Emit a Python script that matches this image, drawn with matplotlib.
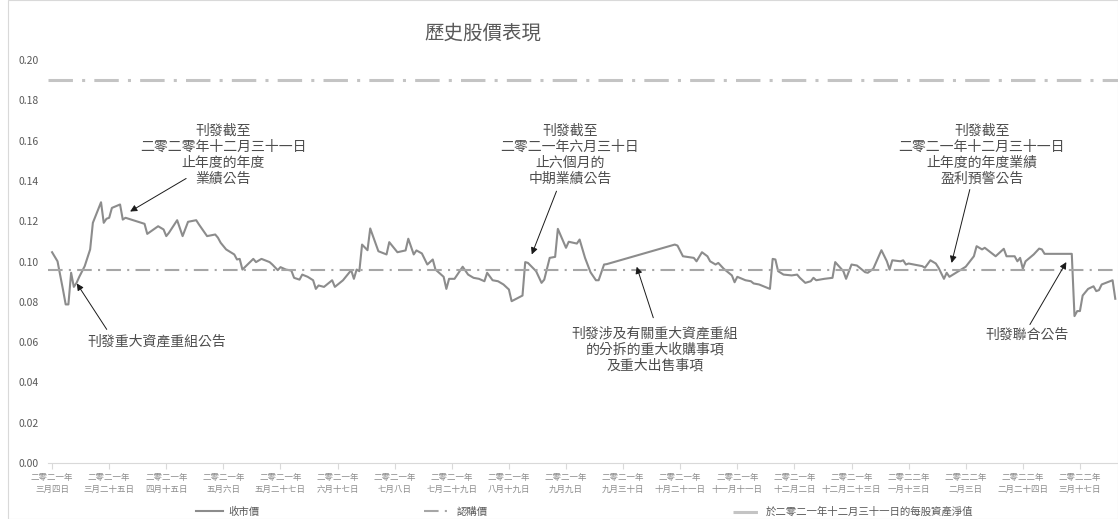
import matplotlib
matplotlib.use("Agg")
import matplotlib.pyplot as plt
from matplotlib.lines import Line2D
from matplotlib.patches import Rectangle

plt.rcParams["font.family"] = ["Noto Sans CJK TC", "DejaVu Sans"]

# days counted from 2021-03-04, closing price (HK$)
days = [0, 2, 4, 5, 6, 7, 8, 9, 10, 12, 14, 15, 18, 19, 20, 21, 22, 25, 26, 27,
        34, 35, 39, 41, 42, 43, 46, 48, 50, 53, 54, 57, 60, 61, 62, 64, 67, 68, 69, 70,
        74, 75, 77, 80, 81, 83, 84, 86, 88, 89, 91, 92, 94, 96, 97, 98, 100, 103, 104, 107,
        110, 111, 112, 113, 114, 116, 117, 120, 123, 124,
        127, 130, 131, 133, 134, 136, 138, 140, 141, 144, 145, 146, 148, 151, 153, 155, 157, 159, 160, 162,
        164, 166, 168, 169, 173, 174, 175, 178, 180, 181, 183, 185, 186, 189, 190, 193, 194, 196, 198, 200,
        201, 203, 204, 229, 230, 232, 236, 237, 239, 241, 242, 244, 245, 247, 250, 251, 252,
        255, 257, 258, 260, 264, 265, 266, 267, 269, 272, 274, 275, 277, 279, 280, 281, 284, 287, 288, 291,
        292, 294, 296, 299, 300, 302, 305, 307, 308, 309, 312, 313, 314, 315, 317, 320, 321, 323, 325, 326,
        328, 329, 330, 336, 339, 340, 342, 343, 347, 349, 350, 351, 354, 355, 356, 357, 358, 361, 363, 364,
        365, 375, 376, 377, 378, 379, 381, 383, 384, 385, 386, 390, 391]
close = [0.1046, 0.1001, 0.0861, 0.0787, 0.0787, 0.0944, 0.0874, 0.0894, 0.0924, 0.0977,
         0.1060, 0.1192, 0.1294, 0.1192, 0.1212, 0.1217, 0.1266, 0.1283, 0.1208, 0.1217,
         0.1187, 0.1137, 0.1175, 0.1159, 0.1126, 0.1143, 0.1205, 0.1126, 0.1197, 0.1205,
         0.1184, 0.1126, 0.1134, 0.1118, 0.1093, 0.1060, 0.1035, 0.1010, 0.1013, 0.0960,
         0.1013, 0.0997, 0.1013, 0.0997, 0.0985, 0.0957, 0.0972, 0.0960, 0.0955, 0.0919,
         0.0910, 0.0935, 0.0924, 0.0907, 0.0864, 0.0881, 0.0874, 0.0907, 0.0874, 0.0907,
         0.0957, 0.0914, 0.0960, 0.0952, 0.1084, 0.1056, 0.1164, 0.1051, 0.1035, 0.1096,
         0.1046, 0.1055, 0.1113, 0.1035, 0.1055, 0.1040, 0.0985, 0.1010, 0.0960, 0.0924,
         0.0864, 0.0914, 0.0914, 0.0974, 0.0935, 0.0919, 0.0914, 0.0902, 0.0944, 0.0907,
         0.0902, 0.0886, 0.0861, 0.0803, 0.0831, 0.0997, 0.0993, 0.0952, 0.0894, 0.0910,
         0.1018, 0.1023, 0.1162, 0.1068, 0.1098, 0.1089, 0.1109, 0.1018, 0.0947, 0.0907,
         0.0907, 0.0985, 0.0987, 0.1084, 0.1079, 0.1026, 0.1018, 0.1001, 0.1046, 0.1026,
         0.1001, 0.0985, 0.0993, 0.0964, 0.0931, 0.0897, 0.0924,
         0.0907, 0.0902, 0.0891, 0.0886, 0.0864, 0.1013, 0.1010, 0.0952, 0.0935, 0.0931,
         0.0935, 0.0919, 0.0894, 0.0902, 0.0919, 0.0907, 0.0914, 0.0919, 0.0997, 0.0952,
         0.0914, 0.0985, 0.0980, 0.0947, 0.0944, 0.0964, 0.1056, 0.1001, 0.0960, 0.1006,
         0.1001, 0.1006, 0.0985, 0.0990, 0.0985, 0.0977, 0.0969, 0.1006, 0.0990, 0.0969,
         0.0914, 0.0944, 0.0924, 0.0974, 0.1026, 0.1076, 0.1060, 0.1068, 0.1026, 0.1051,
         0.1063, 0.1026, 0.1026, 0.1001, 0.1018, 0.0964, 0.1001, 0.1035, 0.1064, 0.1060,
         0.1038, 0.1038, 0.0729, 0.0754, 0.0754, 0.0831, 0.0864, 0.0877, 0.0853, 0.0858,
         0.0886, 0.0907, 0.0815]

subscription_price = 0.096
nav_per_share = 0.19

tick_days = [0, 21, 42, 63, 84, 105, 126, 147, 168, 189, 210, 231, 252, 273, 294, 315, 336, 357, 378]
tick_labels = ["二零二一年\n三月四日", "二零二一年\n三月二十五日", "二零二一年\n四月十五日",
               "二零二一年\n五月六日", "二零二一年\n五月二十七日", "二零二一年\n六月十七日",
               "二零二一年\n七月八日", "二零二一年\n七月二十九日", "二零二一年\n八月十九日",
               "二零二一年\n九月九日", "二零二一年\n九月三十日", "二零二一年\n十月二十一日",
               "二零二一年\n十一月十一日", "二零二一年\n十二月二日", "二零二一年\n十二月二十三日",
               "二零二二年\n一月十三日", "二零二二年\n二月三日", "二零二二年\n二月二十四日",
               "二零二二年\n三月十七日"]

series_names = ["收市價", "認購價", "於二零二一年十二月三十一日的每股資產淨值"]

# (text, text centre, arrow tail, arrow head) in data coords
notes = [
    ("刊發截至\n二零二零年十二月三十一日\n止年度的年度\n業績公告", (62.9, 0.1531), (49.3, 0.1412), (28.7, 0.1248)),
    ("刊發重大資產重組公告", (38.6, 0.0603), (20.1, 0.0663), (9.1, 0.0891)),
    ("刊發截至\n二零二一年六月三十日\n止六個月的\n中期業績公告", (190.4, 0.1531), (185.5, 0.1349), (176.4, 0.1035)),
    ("刊發涉及有關重大資產重組\n的分拆的重大收購事項\n及重大出售事項", (221.7, 0.0563), (221.1, 0.0721), (215.0, 0.0974)),
    ("刊發截至\n二零二一年十二月三十一日\n止年度的年度業績\n盈利預警公告", (341.9, 0.1531), (337.5, 0.1357), (330.8, 0.0993)),
    ("刊發聯合公告", (358.5, 0.0638), (359.6, 0.0687), (373.0, 0.0997)),
]

W, H = 1118, 519
fig = plt.figure(figsize=(W / 100, H / 100), dpi=100)
fig.patches.append(Rectangle((8 / W, 0), 1 - 8 / W, 1, transform=fig.transFigure,
                             fill=False, edgecolor="#d9d9d9", lw=0.8))
ax = fig.add_axes([48 / W, 56 / H, (W - 48) / W, 403 / H])

c_close, c_sub, c_nav = "#8c8c8c", "#a6a6a6", "#c4c4c4"
ax.plot(days, close, color=c_close, lw=1.5, solid_joinstyle="round")
ax.axhline(subscription_price, color=c_sub, lw=1.5, dashes=(7, 3, 1, 3))
ax.axhline(nav_per_share, color=c_nav, lw=2.2, dashes=(8, 3, 1, 3))

ax.set_xlim(-1.5, 392)
ax.set_ylim(0, 0.20)
ax.set_yticks([i * 0.02 for i in range(11)])
ax.set_yticklabels([f"{i * 0.02:.2f}" for i in range(11)], fontsize=7.5, color="#595959")
ax.tick_params(axis="y", length=0, pad=7)
ax.set_xticks(tick_days)
ax.set_xticklabels(tick_labels, fontsize=6.1, color="#8c8c8c", linespacing=1.45)
ax.tick_params(axis="x", length=4, color="#d9d9d9", pad=3)
for s in ["top", "right", "left"]:
    ax.spines[s].set_visible(False)
ax.spines["bottom"].set_color("#d9d9d9")

for txt, tpos, tail, head in notes:
    ax.text(tpos[0], tpos[1], txt, ha="center", va="center", fontsize=10,
            color="#4d4d4d", linespacing=1.2)
    ax.annotate("", xy=head, xytext=tail,
                arrowprops=dict(arrowstyle="-|>", color="#1a1a1a", lw=0.7,
                                mutation_scale=10, shrinkA=0, shrinkB=0))

fig.text(483 / W, 1 - 33 / H, "歷史股價表現", ha="center", va="center",
         fontsize=14, color="#595959")

handles = [Line2D([], [], color=c_close, lw=1.5),
           Line2D([], [], color=c_sub, lw=1.5, dashes=(7, 3, 1, 3)),
           Line2D([], [], color=c_nav, lw=2.2, dashes=(8, 3, 1, 3))]
legend_x = [196, 424, 733]
for h, name, lx in zip(handles, series_names, legend_x):
    lg = fig.legend([h], [name], loc="center left", bbox_to_anchor=(lx / W, 1 - 512 / H),
                    frameon=False, fontsize=7.5, handlelength=2.6, handletextpad=0.5,
                    borderpad=0, borderaxespad=0)
    for t in lg.get_texts():
        t.set_color("#595959")

fig.savefig("out.png", dpi=100)
